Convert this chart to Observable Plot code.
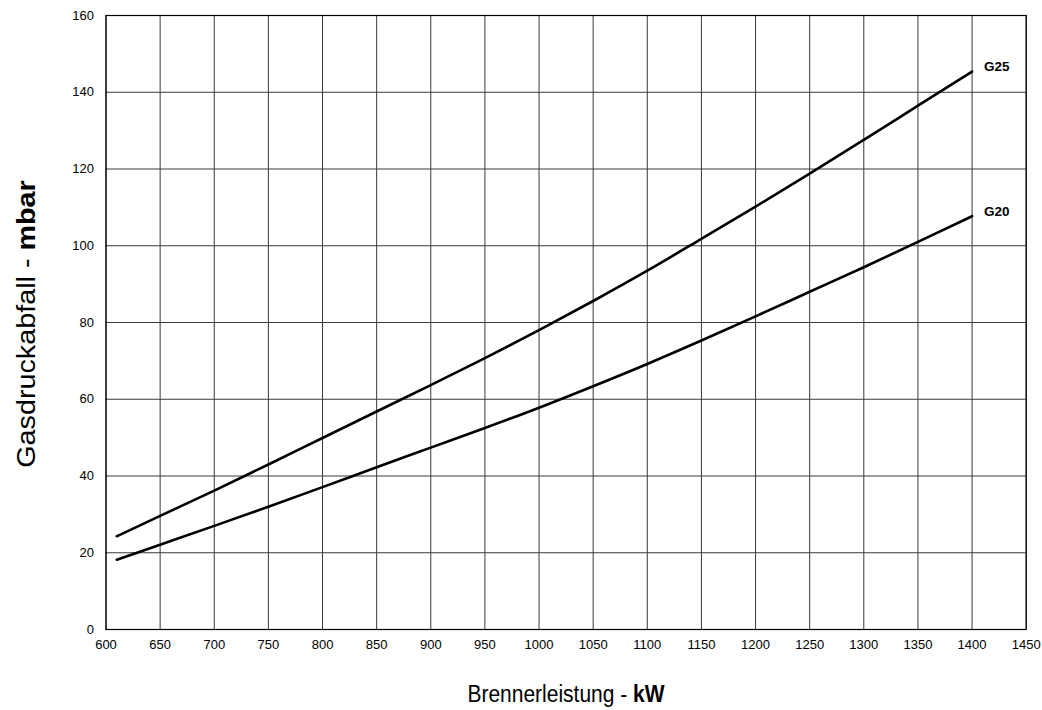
<!DOCTYPE html>
<html>
<head>
<meta charset="utf-8">
<script src="https://cdn.jsdelivr.net/npm/d3@7"></script>
<script src="https://cdn.jsdelivr.net/npm/@observablehq/plot@0.6"></script>
<style>
  html, body { margin: 0; padding: 0; background: #fff; }
  #chart svg { display: block; }
</style>
</head>
<body>
<div id="chart"></div>
<script>
// Data
const power = [610, 650, 700, 750, 800, 850, 900, 950, 1000, 1050, 1100, 1150, 1200, 1250, 1300, 1350, 1400];
const g25 = [24.3, 29.6, 36.2, 43.0, 49.9, 56.8, 63.7, 70.7, 78.0, 85.6, 93.5, 101.8, 110.2, 118.8, 127.6, 136.5, 145.4];
const g20 = [18.2, 22.1, 27.0, 32.0, 37.1, 42.3, 47.4, 52.5, 57.8, 63.4, 69.2, 75.3, 81.6, 88.0, 94.4, 101.0, 107.7];
const seriesNames = ["G25", "G20"];
const xTicks = d3.range(600, 1451, 50);
const yTicks = d3.range(0, 161, 20);

const rows = [];
power.forEach((p, i) => {
  rows.push({ series: "G25", x: p, y: g25[i] });
  rows.push({ series: "G20", x: p, y: g20[i] });
});
const ends = seriesNames.map(s => {
  const arr = s === "G25" ? g25 : g20;
  return { series: s, x: power[power.length - 1], y: arr[arr.length - 1] };
});

const font = "Arial, 'Liberation Sans', sans-serif";
const fmt = d => String(d);

const chart = Plot.plot({
  width: 1042,
  height: 710,
  marginLeft: 105.5,
  marginRight: 16.3,
  marginTop: 15,
  marginBottom: 81,
  style: { fontFamily: font, fontSize: "13px", color: "#000", background: "#fff" },
  x: { domain: [600, 1450], ticks: xTicks, label: null, tickSize: 0, tickPadding: 10, tickFormat: fmt },
  y: { domain: [0, 160], ticks: yTicks, label: null, tickSize: 0, tickPadding: 12, tickFormat: fmt },
  marks: [
    Plot.gridX(xTicks, { stroke: "#3a3a3a", strokeOpacity: 1, strokeWidth: 1 }),
    Plot.gridY(yTicks, { stroke: "#3a3a3a", strokeOpacity: 1, strokeWidth: 1 }),
    Plot.frame({ stroke: "#000", strokeWidth: 1.2 }),
    Plot.axisX({ ticks: xTicks, tickSize: 0, tickPadding: 10, fontSize: 13, label: null, tickFormat: fmt }),
    Plot.axisY({ ticks: yTicks, tickSize: 0, tickPadding: 12, fontSize: 13, label: null, tickFormat: fmt }),
    Plot.line(rows, { x: "x", y: "y", z: "series", stroke: "#000", strokeWidth: 2.6, curve: "monotone-x" }),
    Plot.text(ends, { x: "x", y: "y", text: "series", dx: 12, dy: -5, textAnchor: "start", fontWeight: "bold", fontSize: 13.5, fill: "#000" })
  ]
});

const svg = d3.select(chart);
// X axis title
const xt = svg.append("text")
  .attr("transform", "translate(566,702) scale(1,1.15)")
  .attr("text-anchor", "middle")
  .attr("font-family", font)
  .attr("font-size", 21)
  .attr("fill", "#000");
xt.append("tspan").text("Brennerleistung - ");
xt.append("tspan").attr("font-weight", "bold").text("kW");

// Y axis title
const yt = svg.append("text")
  .attr("transform", "translate(35,324) scale(1,1.15) rotate(-90)")
  .attr("text-anchor", "middle")
  .attr("font-family", font)
  .attr("font-size", 25)
  .attr("fill", "#000");
yt.append("tspan").text("Gasdruckabfall - ");
yt.append("tspan").attr("font-weight", "bold").text("mbar");

document.getElementById("chart").appendChild(chart);
</script>
</body>
</html>
